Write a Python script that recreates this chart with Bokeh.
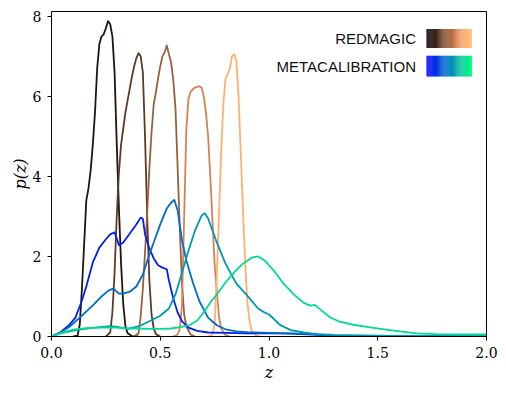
import numpy as np
from bokeh.plotting import figure
from bokeh.models import Range1d, FixedTicker
from bokeh.core.properties import value
from bokeh.embed import file_html
from bokeh.resources import INLINE

# ---------------- data ----------------
rm_z1 = [0.10,0.12,0.13,0.14,0.15,0.16,0.17,0.18,0.19,0.20,0.21,0.22,0.23,0.24,0.25,0.26,0.27,0.28,0.29,0.30,0.31,0.32,0.33,0.34,0.35,0.37,0.40]
rm_p1 = [0,0.02,0.3,1.2,2.3,3.4,3.7,4.15,4.8,5.6,6.7,7.3,7.5,7.55,7.7,7.88,7.8,7.5,6.6,4.8,3.2,1.8,0.8,0.25,0.08,0.01,0]

rm_z2 = [0.25,0.27,0.28,0.29,0.30,0.31,0.32,0.33,0.34,0.35,0.36,0.37,0.38,0.39,0.40,0.41,0.42,0.43,0.44,0.45,0.46,0.47,0.48,0.50]
rm_p2 = [0,0.1,0.6,1.6,3.0,4.1,4.8,5.2,5.6,5.9,6.2,6.5,6.75,6.95,7.08,7.0,6.6,5.0,3.0,1.4,0.55,0.2,0.06,0]

rm_z3 = [0.38,0.40,0.41,0.42,0.43,0.44,0.45,0.46,0.47,0.48,0.49,0.50,0.51,0.52,0.53,0.54,0.55,0.56,0.57,0.58,0.59,0.60,0.61,0.62,0.64,0.66]
rm_p3 = [0,0.08,0.5,1.2,2.1,3.1,4.2,5.1,5.8,6.1,6.45,6.75,7.0,7.1,7.27,7.05,6.85,6.4,5.7,4.2,2.7,1.3,0.55,0.25,0.05,0]

rm_z4 = [0.56,0.58,0.59,0.60,0.61,0.62,0.63,0.64,0.65,0.66,0.67,0.68,0.69,0.70,0.71,0.72,0.73,0.74,0.75,0.76,0.77,0.78,0.80,0.82]
rm_p4 = [0,0.05,0.2,0.8,3.0,5.2,5.95,6.12,6.18,6.22,6.24,6.25,6.22,6.0,5.6,5.0,4.0,2.9,1.8,1.15,0.5,0.2,0.04,0]

rm_z5 = [0.72,0.74,0.75,0.76,0.77,0.78,0.79,0.80,0.81,0.82,0.83,0.84,0.85,0.86,0.87,0.88,0.89,0.90,0.91,0.92,0.94,0.96]
rm_p5 = [0,0.05,0.3,1.5,3.0,4.6,5.8,6.45,6.55,6.7,7.0,7.05,6.9,6.0,4.6,3.2,1.9,0.9,0.4,0.15,0.03,0]

mc_z1 = [0.0,0.04,0.08,0.11,0.14,0.16,0.19,0.22,0.25,0.27,0.29,0.30,0.31,0.33,0.35,0.37,0.39,0.41,0.42,0.43,0.45,0.47,0.49,0.51,0.53,0.54,0.56,0.58,0.60,0.63,0.67,0.72,0.8,0.9,1.0,1.1,1.2,1.3,1.5,1.8,2.0]
mc_p1 = [0.0,0.1,0.28,0.47,0.9,1.25,1.85,2.22,2.43,2.55,2.6,2.45,2.28,2.35,2.5,2.65,2.8,2.97,2.94,2.55,2.2,1.95,1.78,1.72,1.68,1.4,0.95,0.6,0.38,0.22,0.14,0.1,0.09,0.08,0.08,0.07,0.05,0.02,0.01,0.0,0.0]

mc_z2 = [0.0,0.04,0.08,0.13,0.19,0.23,0.26,0.28,0.29,0.31,0.33,0.36,0.39,0.42,0.45,0.48,0.50,0.53,0.55,0.565,0.58,0.60,0.62,0.65,0.68,0.72,0.76,0.8,0.85,0.9,1.0,1.1,1.2,1.3,1.5,2.0]
mc_p2 = [0.0,0.1,0.23,0.47,0.78,1.0,1.14,1.19,1.17,1.07,1.07,1.12,1.25,1.55,2.05,2.5,2.8,3.2,3.35,3.41,3.15,2.4,1.9,1.35,0.88,0.47,0.28,0.18,0.13,0.11,0.09,0.08,0.06,0.02,0.01,0.0]

mc_z3 = [0.0,0.04,0.1,0.15,0.2,0.27,0.3,0.35,0.4,0.45,0.5,0.54,0.57,0.6,0.63,0.66,0.69,0.705,0.72,0.76,0.8,0.85,0.9,0.95,0.98,1.0,1.02,1.05,1.1,1.16,1.22,1.3,1.5,1.8,2.0]
mc_p3 = [0.0,0.08,0.15,0.19,0.22,0.26,0.24,0.19,0.25,0.38,0.52,0.7,1.05,1.6,2.15,2.65,3.02,3.08,2.95,2.35,1.82,1.32,1.02,0.7,0.6,0.55,0.45,0.29,0.16,0.1,0.06,0.04,0.02,0.01,0.0]

mc_z4 = [0.0,0.03,0.07,0.1,0.15,0.2,0.25,0.3,0.35,0.4,0.45,0.5,0.55,0.6,0.64,0.67,0.7,0.73,0.76,0.8,0.84,0.88,0.92,0.95,0.98,1.02,1.07,1.12,1.16,1.19,1.21,1.24,1.28,1.32,1.38,1.45,1.53,1.6,1.68,1.77,1.87,2.0]
mc_p4 = [0.0,0.06,0.13,0.17,0.2,0.22,0.23,0.22,0.2,0.2,0.19,0.19,0.2,0.24,0.3,0.4,0.6,0.85,1.05,1.35,1.6,1.82,1.97,2.0,1.9,1.66,1.3,1.02,0.84,0.77,0.79,0.66,0.48,0.38,0.3,0.24,0.18,0.13,0.08,0.06,0.05,0.05]

redmagic_z = [rm_z1, rm_z2, rm_z3, rm_z4, rm_z5]
redmagic_p = [rm_p1, rm_p2, rm_p3, rm_p4, rm_p5]
metacal_z = [mc_z1, mc_z2, mc_z3, mc_z4]
metacal_p = [mc_p1, mc_p2, mc_p3, mc_p4]

redmagic_cmap_pos = [0.10, 0.29, 0.48, 0.66, 0.88]
metacal_cmap_pos = [0.12, 0.42, 0.60, 0.86]

legend_labels = ["REDMAGIC", "METACALIBRATION"]
x_ticks = [0.0, 0.5, 1.0, 1.5, 2.0]
x_tick_labels = ["0.0", "0.5", "1.0", "1.5", "2.0"]
y_ticks = [0, 2, 4, 6, 8]
y_tick_labels = ["0", "2", "4", "6", "8"]

# ---------------- colour maps ----------------
def _hex(r, g, b):
    return "#%02x%02x%02x" % (int(round(r * 255)), int(round(g * 255)), int(round(b * 255)))

def copper(t):
    return _hex(min(1.0, 1.25 * t), 0.7812 * t, 0.4975 * t)

def winter(t):
    return _hex(0.0, t, 1.0 - 0.5 * t)

# ---------------- figure ----------------
X0, X1, Y0, Y1 = 0.0, 2.0, 0.0, 8.12
p = figure(width=498, height=385, x_range=Range1d(X0, X1), y_range=Range1d(Y0, Y1),
           output_backend="svg", toolbar_location=None,
           min_border_left=51, min_border_right=12, min_border_top=11, min_border_bottom=49)
p.background_fill_color = "white"
p.border_fill_color = "white"
p.outline_line_color = "black"
p.outline_line_width = 1
p.xgrid.visible = False
p.ygrid.visible = False

for ax in (p.xaxis[0], p.yaxis[0]):
    ax.axis_line_color = "black"
    ax.major_tick_line_color = "black"
    ax.minor_tick_line_color = None
    ax.major_tick_in = 0
    ax.major_tick_out = 4
    ax.major_label_standoff = 6
    ax.major_label_text_font = "DejaVu Serif"
    ax.major_label_text_font_size = "14px"
    ax.major_label_text_color = "black"
    ax.axis_label_text_font = "DejaVu Serif"
    ax.axis_label_text_font_style = "italic"
    ax.axis_label_text_color = "black"

p.xaxis.ticker = FixedTicker(ticks=x_ticks)
p.xaxis.major_label_overrides = {t: l for t, l in zip(x_ticks, x_tick_labels)}
p.yaxis.ticker = FixedTicker(ticks=y_ticks)
p.yaxis.major_label_overrides = {t: l for t, l in zip(y_ticks, y_tick_labels)}
p.xaxis.axis_label = "z"
p.xaxis.axis_label_text_font_size = "16px"
p.xaxis.axis_label_standoff = 2
p.yaxis.axis_label = "p(z)"
p.yaxis.axis_label_text_font_size = "16px"
p.yaxis.axis_label_standoff = 0

for zs, ps, t in zip(redmagic_z, redmagic_p, redmagic_cmap_pos):
    p.line(zs, ps, line_color=copper(t), line_width=1.8, line_join="round")
for zs, ps, t in zip(metacal_z, metacal_p, metacal_cmap_pos):
    p.line(zs, ps, line_color=winter(t), line_width=1.8, line_join="round")

# ---------------- gradient legend ----------------
# positions as fractions of the plotting area
def fx(f):
    return X0 + f * (X1 - X0)

def fy(f):
    return Y0 + f * (Y1 - Y0)

n = 48
sw_left, sw_right = 0.862, 0.966
rows = [(0.946, 0.888, copper), (0.864, 0.800, winter)]
text_x = 0.838
for (top, bot, cmap), label in zip(rows, legend_labels):
    edges = np.linspace(fx(sw_left), fx(sw_right), n + 1)
    cols = [cmap(i / (n - 1)) for i in range(n)]
    p.quad(left=edges[:-1], right=edges[1:] + 0.001, top=fy(top), bottom=fy(bot),
           fill_color=cols, line_color=None)
    p.text(x=[fx(text_x)], y=[fy((top + bot) / 2)], text=[label],
           text_font=value("Liberation Sans"), text_font_size="15px",
           text_align="right", text_baseline="middle", text_color="#111111")

open("out.html", "w").write(file_html(p, INLINE))
